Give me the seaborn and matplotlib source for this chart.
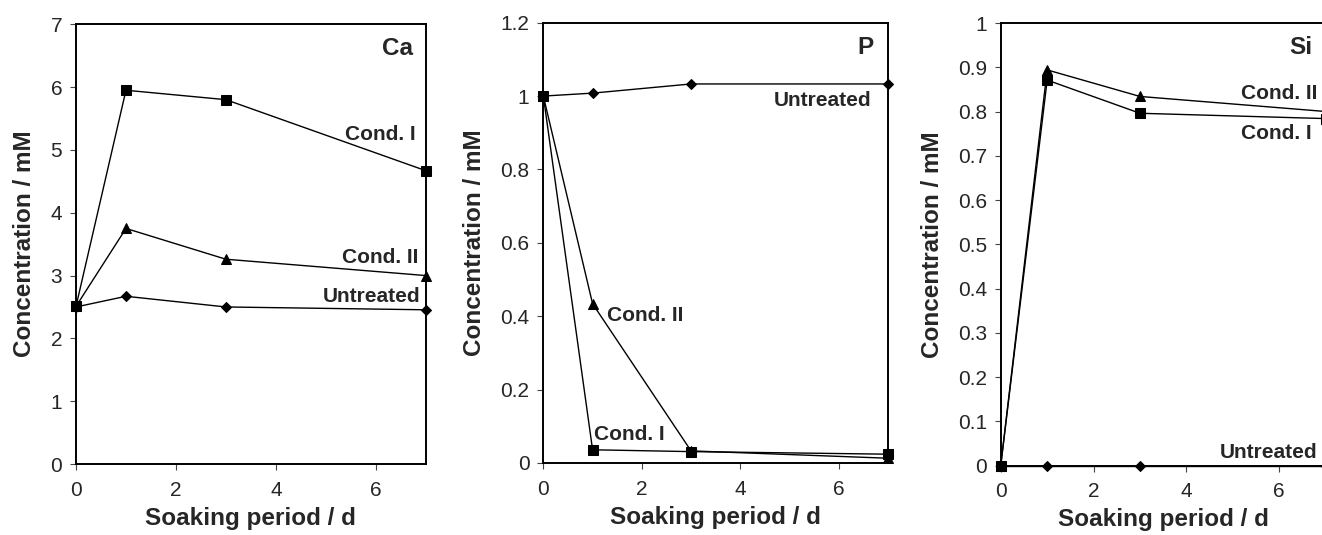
import matplotlib
matplotlib.use("Agg")
import matplotlib.pyplot as plt
import seaborn as sns
import pandas as pd
from matplotlib.ticker import FormatStrFormatter

# ---- data ----
days = [0, 1, 3, 7]

ca_cond1 = [2.51, 5.95, 5.80, 4.67]
ca_cond2 = [2.51, 3.75, 3.26, 3.00]
ca_untreated = [2.50, 2.67, 2.50, 2.455]

p_cond1 = [1.0, 0.036, 0.031, 0.024]
p_cond2 = [1.0, 0.434, 0.033, 0.013]
p_untreated = [1.0, 1.008, 1.033, 1.033]

si_cond1 = [0.0, 0.871, 0.796, 0.784]
si_cond2 = [0.0, 0.894, 0.834, 0.800]
si_untreated = [0.0, 0.0, 0.0, 0.0]

series_names = ["Cond. I", "Cond. II", "Untreated"]
markers = {"Cond. I": "s", "Cond. II": "^", "Untreated": "D"}
msizes = {"Cond. I": 7, "Cond. II": 7.5, "Untreated": 5.5}

panels = [
    ("Ca", [ca_cond1, ca_cond2, ca_untreated], (0, 7), list(range(0, 8))),
    ("P", [p_cond1, p_cond2, p_untreated], (0, 1.2), [0, 0.2, 0.4, 0.6, 0.8, 1.0, 1.2]),
    ("Si", [si_cond1, si_cond2, si_untreated], (0, 1), [round(0.1 * i, 1) for i in range(11)]),
]

# annotation positions (data coords): text, x, y, ha, fontsize
annots = [
    [("Ca", 6.75, 6.61, "right", 17.5), ("Cond. I", 6.79, 5.25, "right", 15),
     ("Cond. II", 6.85, 3.28, "right", 15), ("Untreated", 6.90, 2.66, "right", 15)],
    [("P", 6.71, 1.132, "right", 17.5), ("Untreated", 6.67, 0.988, "right", 15),
     ("Cond. II", 1.29, 0.402, "left", 15), ("Cond. I", 1.03, 0.079, "left", 15)],
    [("Si", 6.72, 0.944, "right", 17.5), ("Cond. II", 6.81, 0.840, "right", 15),
     ("Cond. I", 6.69, 0.751, "right", 15), ("Untreated", 6.82, 0.030, "right", 15)],
]

sns.set_style("ticks")
plt.rcParams["font.family"] = ["Liberation Sans", "DejaVu Sans"]

fig = plt.figure(figsize=(13.22, 5.35), dpi=100)
positions = [
    [0.0575, 0.1327, 0.2645, 0.8219],
    [0.4110, 0.1346, 0.2607, 0.8230],
    [0.7570, 0.1299, 0.2458, 0.8271],
]

for (name, vals, ylim, yticks), pos, ann in zip(panels, positions, annots):
    ax = fig.add_axes(pos)
    df = pd.DataFrame({
        "day": days * 3,
        "conc": vals[0] + vals[1] + vals[2],
        "series": sum([[n] * len(days) for n in series_names], []),
    })
    for n in series_names:
        sub = df[df["series"] == n]
        sns.lineplot(data=sub, x="day", y="conc", ax=ax, color="black",
                     marker=markers[n], markersize=msizes[n], markeredgecolor="black",
                     markerfacecolor="black", linewidth=1.0, estimator=None,
                     clip_on=False, zorder=3)
    ax.set_xlim(0, 7)
    ax.set_ylim(*ylim)
    ax.set_xticks([0, 2, 4, 6])
    ax.set_yticks(yticks)
    ax.yaxis.set_major_formatter(FormatStrFormatter("%g"))
    ax.tick_params(axis="both", direction="out", length=4, width=0.8,
                   color="#444444", labelsize=15)
    ax.tick_params(axis="x", pad=8)
    ax.tick_params(axis="y", pad=6)
    for sp in ax.spines.values():
        sp.set_visible(True)
        sp.set_linewidth(1.4)
        sp.set_color("black")
    ax.set_xlabel("Soaking period / d", fontsize=17.5, fontweight="bold", labelpad=5)
    ax.set_ylabel("Concentration / mM", fontsize=17.5, fontweight="bold", labelpad=10)
    for txt, x, y, ha, fs in ann:
        ax.text(x, y, txt, ha=ha, va="center", fontsize=fs, fontweight="bold")

fig.savefig("out.png", dpi=100)
